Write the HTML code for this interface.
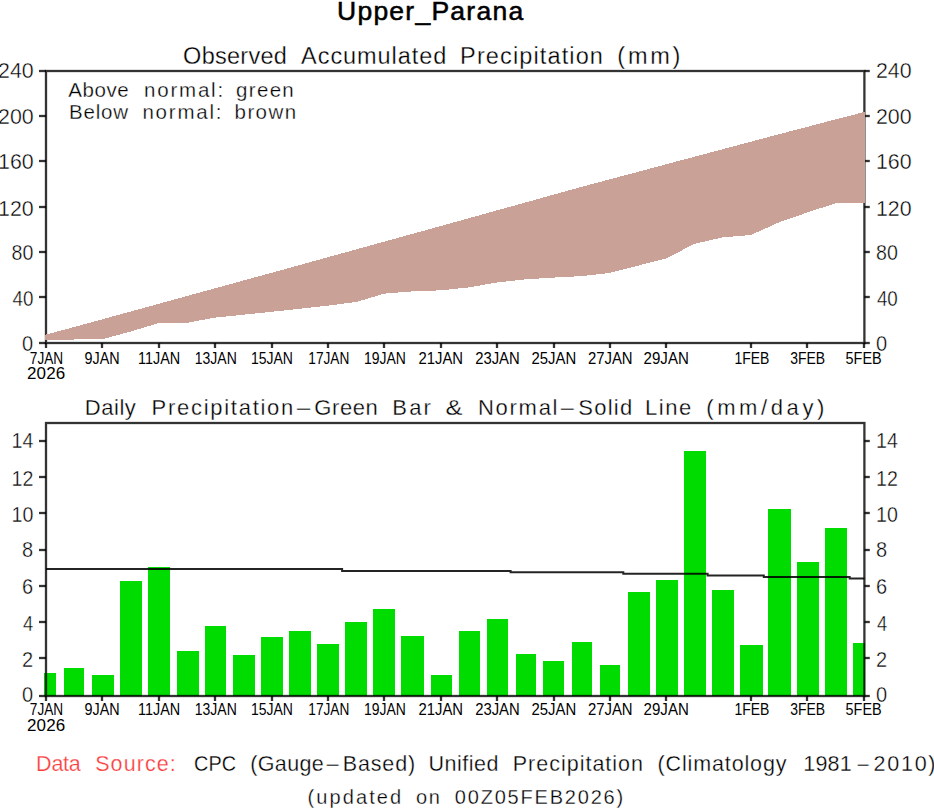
<!DOCTYPE html>
<html><head><meta charset="utf-8"><title>Upper_Parana</title>
<style>html,body{margin:0;padding:0;background:#fff;width:934px;height:809px;overflow:hidden}svg{display:block}text{font-family:'Liberation Sans', Arial, sans-serif}</style></head><body>
<svg width="934" height="809" viewBox="0 0 934 809">
<rect width="934" height="809" fill="#fff"/>
<g stroke="#000" stroke-opacity="0.8" stroke-width="2.3" fill="none">
<rect x="46" y="71" width="818.4" height="272"/>
<line x1="39" y1="343" x2="46" y2="343"/><line x1="864.4" y1="343" x2="869.8" y2="343"/>
<line x1="39" y1="297" x2="46" y2="297"/><line x1="864.4" y1="297" x2="869.8" y2="297"/>
<line x1="39" y1="252" x2="46" y2="252"/><line x1="864.4" y1="252" x2="869.8" y2="252"/>
<line x1="39" y1="207" x2="46" y2="207"/><line x1="864.4" y1="207" x2="869.8" y2="207"/>
<line x1="39" y1="161" x2="46" y2="161"/><line x1="864.4" y1="161" x2="869.8" y2="161"/>
<line x1="39" y1="116" x2="46" y2="116"/><line x1="864.4" y1="116" x2="869.8" y2="116"/>
<line x1="39" y1="71" x2="46" y2="71"/><line x1="864.4" y1="71" x2="869.8" y2="71"/>
<line x1="46" y1="343" x2="46" y2="348"/>
<line x1="102" y1="343" x2="102" y2="348"/>
<line x1="159" y1="343" x2="159" y2="348"/>
<line x1="215" y1="343" x2="215" y2="348"/>
<line x1="272" y1="343" x2="272" y2="348"/>
<line x1="328" y1="343" x2="328" y2="348"/>
<line x1="384" y1="343" x2="384" y2="348"/>
<line x1="441" y1="343" x2="441" y2="348"/>
<line x1="497" y1="343" x2="497" y2="348"/>
<line x1="554" y1="343" x2="554" y2="348"/>
<line x1="610" y1="343" x2="610" y2="348"/>
<line x1="666" y1="343" x2="666" y2="348"/>
<line x1="751" y1="343" x2="751" y2="348"/>
<line x1="807" y1="343" x2="807" y2="348"/>
<line x1="864" y1="343" x2="864" y2="348"/>
</g>
<polygon fill="rgb(201,161,151)" shape-rendering="crispEdges" points="45.2,334.8 74.2,327.0 102.4,319.3 130.6,311.5 158.8,303.8 187.0,296.0 215.2,288.3 243.4,280.5 271.6,272.8 299.8,265.0 328.0,257.2 356.2,249.4 384.4,241.6 412.6,233.8 440.8,226.0 469.0,218.2 497.2,210.3 525.4,202.5 553.6,194.6 581.8,186.8 610.0,179.3 638.2,171.8 666.4,164.2 694.6,156.7 722.8,149.2 751.0,141.7 779.2,134.2 807.4,126.8 835.6,119.3 865.2,111.8 865.2,202.7 835.6,203.2 807.4,212.5 779.2,222.2 751.0,235.0 722.8,237.3 694.6,243.8 666.4,258.3 638.2,265.6 610.0,272.9 581.8,276.1 553.6,277.6 525.4,279.4 497.2,282.4 469.0,287.4 440.8,290.3 412.6,291.4 384.4,293.6 356.2,302.0 328.0,305.6 299.8,308.8 271.6,311.8 243.4,314.7 215.2,317.6 187.0,322.8 158.8,323.1 130.6,331.5 102.4,339.2 74.2,339.5 45.2,340.3"/>
<g fill="rgb(0,220,0)" shape-rendering="crispEdges">
<rect x="43.7" y="673.0" width="12.6" height="22.7"/>
<rect x="64.0" y="668.3" width="20.3" height="27.4"/>
<rect x="92.1" y="674.7" width="21.9" height="21.0"/>
<rect x="120.0" y="580.7" width="22.1" height="115.0"/>
<rect x="148.3" y="566.9" width="21.8" height="128.8"/>
<rect x="176.6" y="651.1" width="22.1" height="44.6"/>
<rect x="204.8" y="626.0" width="21.6" height="69.7"/>
<rect x="232.6" y="654.5" width="22.1" height="41.2"/>
<rect x="260.9" y="637.0" width="22.1" height="58.7"/>
<rect x="289.1" y="630.8" width="21.9" height="64.9"/>
<rect x="317.0" y="643.6" width="22.0" height="52.1"/>
<rect x="345.2" y="621.6" width="22.1" height="74.1"/>
<rect x="373.4" y="609.1" width="21.9" height="86.6"/>
<rect x="401.3" y="635.7" width="22.2" height="60.0"/>
<rect x="431.1" y="674.6" width="20.5" height="21.1"/>
<rect x="459.0" y="630.8" width="20.8" height="64.9"/>
<rect x="487.3" y="618.5" width="20.5" height="77.2"/>
<rect x="515.5" y="654.4" width="20.6" height="41.3"/>
<rect x="543.4" y="660.6" width="20.5" height="35.1"/>
<rect x="571.6" y="641.7" width="20.5" height="54.0"/>
<rect x="599.9" y="665.2" width="20.5" height="30.5"/>
<rect x="627.7" y="592.0" width="22.3" height="103.7"/>
<rect x="656.0" y="579.5" width="21.7" height="116.2"/>
<rect x="684.2" y="451.1" width="21.8" height="244.6"/>
<rect x="712.0" y="590.1" width="22.3" height="105.6"/>
<rect x="740.3" y="645.1" width="22.2" height="50.6"/>
<rect x="768.4" y="509.0" width="22.2" height="186.7"/>
<rect x="796.6" y="562.3" width="21.9" height="133.4"/>
<rect x="824.6" y="527.9" width="22.1" height="167.8"/>
<rect x="852.8" y="643.4" width="12.2" height="52.3"/>
</g>
<g stroke="#000" stroke-opacity="0.8" stroke-width="2.3" fill="none">
<rect x="46" y="423" width="818.4" height="273"/>
<line x1="39" y1="696" x2="46" y2="696"/><line x1="864.4" y1="696" x2="869.8" y2="696"/>
<line x1="39" y1="658" x2="46" y2="658"/><line x1="864.4" y1="658" x2="869.8" y2="658"/>
<line x1="39" y1="622" x2="46" y2="622"/><line x1="864.4" y1="622" x2="869.8" y2="622"/>
<line x1="39" y1="586" x2="46" y2="586"/><line x1="864.4" y1="586" x2="869.8" y2="586"/>
<line x1="39" y1="550" x2="46" y2="550"/><line x1="864.4" y1="550" x2="869.8" y2="550"/>
<line x1="39" y1="513" x2="46" y2="513"/><line x1="864.4" y1="513" x2="869.8" y2="513"/>
<line x1="39" y1="477" x2="46" y2="477"/><line x1="864.4" y1="477" x2="869.8" y2="477"/>
<line x1="39" y1="441" x2="46" y2="441"/><line x1="864.4" y1="441" x2="869.8" y2="441"/>
<line x1="46" y1="696" x2="46" y2="701"/>
<line x1="102" y1="696" x2="102" y2="701"/>
<line x1="159" y1="696" x2="159" y2="701"/>
<line x1="215" y1="696" x2="215" y2="701"/>
<line x1="272" y1="696" x2="272" y2="701"/>
<line x1="328" y1="696" x2="328" y2="701"/>
<line x1="384" y1="696" x2="384" y2="701"/>
<line x1="441" y1="696" x2="441" y2="701"/>
<line x1="497" y1="696" x2="497" y2="701"/>
<line x1="554" y1="696" x2="554" y2="701"/>
<line x1="610" y1="696" x2="610" y2="701"/>
<line x1="666" y1="696" x2="666" y2="701"/>
<line x1="751" y1="696" x2="751" y2="701"/>
<line x1="807" y1="696" x2="807" y2="701"/>
<line x1="864" y1="696" x2="864" y2="701"/>
</g>
<path d="M46,569.0 L342.1,569.0 L342.1,570.9 L510.6,570.9 L510.6,572.3 L623.3,572.3 L623.3,573.85 L707.6,573.85 L707.6,575.4 L763.8,575.4 L763.8,576.9 L849.7,576.9 L849.7,578.5 L864.4,578.5" stroke="#000" stroke-opacity="0.86" stroke-width="2" fill="none"/>
<text y="19.6" font-size="26.5" stroke="#000" stroke-width="0.55"><tspan x="337.00" textLength="186.17" lengthAdjust="spacing">Upper_Parana</tspan></text>
<text y="63.5" font-size="23.5" stroke="#fff" stroke-width="0.3"><tspan x="183.10" textLength="103.79" lengthAdjust="spacing">Observed</tspan> <tspan x="301.10" textLength="145.16" lengthAdjust="spacing">Accumulated</tspan> <tspan x="460.10" textLength="142.83" lengthAdjust="spacing">Precipitation</tspan> <tspan x="617.30" textLength="63.11" lengthAdjust="spacing">(mm)</tspan></text>
<text y="96.6" font-size="20.5" stroke="#fff" stroke-width="0.3"><tspan x="68.30" textLength="60.44" lengthAdjust="spacing">Above</tspan> <tspan x="144.00" textLength="79.16" lengthAdjust="spacing">normal:</tspan> <tspan x="236.10" textLength="57.64" lengthAdjust="spacing">green</tspan></text>
<text y="118.5" font-size="20.5" stroke="#fff" stroke-width="0.3"><tspan x="69.00" textLength="59.14" lengthAdjust="spacing">Below</tspan> <tspan x="142.40" textLength="79.16" lengthAdjust="spacing">normal:</tspan> <tspan x="234.60" textLength="61.44" lengthAdjust="spacing">brown</tspan></text>
<text y="415" font-size="22" stroke="#fff" stroke-width="0.3"><tspan x="84.80" textLength="51.01" lengthAdjust="spacing">Daily</tspan> <tspan x="151.60" textLength="141.68" lengthAdjust="spacing">Precipitation</tspan><tspan x="294.13" textLength="19.23" lengthAdjust="spacingAndGlyphs">-</tspan><tspan x="314.30" textLength="63.46" lengthAdjust="spacing">Green</tspan> <tspan x="392.30" textLength="38.55" lengthAdjust="spacing">Bar</tspan> <tspan x="445.44" textLength="17.00" lengthAdjust="spacingAndGlyphs">&amp;</tspan> <tspan x="477.90" textLength="79.61" lengthAdjust="spacing">Normal</tspan><tspan x="558.02" textLength="18.55" lengthAdjust="spacingAndGlyphs">-</tspan><tspan x="578.30" textLength="53.92" lengthAdjust="spacing">Solid</tspan> <tspan x="645.10" textLength="46.09" lengthAdjust="spacing">Line</tspan> <tspan x="706.30" textLength="117.99" lengthAdjust="spacing">(mm/day)</tspan></text>
<text y="771.2" font-size="21.5" stroke="#fff" stroke-width="0.3"><tspan x="36.10" textLength="44.72" lengthAdjust="spacing" fill="rgb(250,60,60)" stroke-width="0.25">Data</tspan> <tspan x="95.20" textLength="80.61" lengthAdjust="spacing" fill="rgb(250,60,60)" stroke-width="0.25">Source:</tspan> <tspan x="194.07" textLength="42.00" lengthAdjust="spacingAndGlyphs">CPC</tspan> <tspan x="250.20" textLength="73.62" lengthAdjust="spacing">(Gauge</tspan><tspan x="324.01" textLength="17.19" lengthAdjust="spacingAndGlyphs">-</tspan><tspan x="342.70" textLength="72.43" lengthAdjust="spacing">Based)</tspan> <tspan x="428.40" textLength="70.14" lengthAdjust="spacing">Unified</tspan> <tspan x="512.70" textLength="130.33" lengthAdjust="spacing">Precipitation</tspan> <tspan x="657.60" textLength="128.88" lengthAdjust="spacing">(Climatology</tspan> <tspan x="803.30" textLength="48.44" lengthAdjust="spacing">1981</tspan><tspan x="855.31" textLength="15.69" lengthAdjust="spacingAndGlyphs">-</tspan><tspan x="873.60" textLength="61.90" lengthAdjust="spacing">2010)</tspan></text>
<text y="804" font-size="20" stroke="#fff" stroke-width="0.3"><tspan x="307.60" textLength="93.57" lengthAdjust="spacing">(updated</tspan> <tspan x="415.90" textLength="24.05" lengthAdjust="spacing">on</tspan> <tspan x="454.80" textLength="168.37" lengthAdjust="spacing">00Z05FEB2026)</tspan></text>
<text y="363.5" font-size="17"><tspan x="29.80" textLength="33.37" lengthAdjust="spacingAndGlyphs">7JAN</tspan></text>
<text y="715.0" font-size="17"><tspan x="29.80" textLength="33.37" lengthAdjust="spacingAndGlyphs">7JAN</tspan></text>
<text y="363.5" font-size="17"><tspan x="84.56" textLength="35.13" lengthAdjust="spacingAndGlyphs">9JAN</tspan></text>
<text y="715.0" font-size="17"><tspan x="84.56" textLength="35.13" lengthAdjust="spacingAndGlyphs">9JAN</tspan></text>
<text y="363.5" font-size="17"><tspan x="138.05" textLength="42.20" lengthAdjust="spacingAndGlyphs">11JAN</tspan></text>
<text y="715.0" font-size="17"><tspan x="138.05" textLength="42.20" lengthAdjust="spacingAndGlyphs">11JAN</tspan></text>
<text y="363.5" font-size="17"><tspan x="194.78" textLength="41.97" lengthAdjust="spacingAndGlyphs">13JAN</tspan></text>
<text y="715.0" font-size="17"><tspan x="194.78" textLength="41.97" lengthAdjust="spacingAndGlyphs">13JAN</tspan></text>
<text y="363.5" font-size="17"><tspan x="250.88" textLength="41.97" lengthAdjust="spacingAndGlyphs">15JAN</tspan></text>
<text y="715.0" font-size="17"><tspan x="250.88" textLength="41.97" lengthAdjust="spacingAndGlyphs">15JAN</tspan></text>
<text y="363.5" font-size="17"><tspan x="308.30" textLength="41.03" lengthAdjust="spacingAndGlyphs">17JAN</tspan></text>
<text y="715.0" font-size="17"><tspan x="308.30" textLength="41.03" lengthAdjust="spacingAndGlyphs">17JAN</tspan></text>
<text y="363.5" font-size="17"><tspan x="363.98" textLength="41.87" lengthAdjust="spacingAndGlyphs">19JAN</tspan></text>
<text y="715.0" font-size="17"><tspan x="363.98" textLength="41.87" lengthAdjust="spacingAndGlyphs">19JAN</tspan></text>
<text y="363.5" font-size="17"><tspan x="418.53" textLength="44.57" lengthAdjust="spacingAndGlyphs">21JAN</tspan></text>
<text y="715.0" font-size="17"><tspan x="418.53" textLength="44.57" lengthAdjust="spacingAndGlyphs">21JAN</tspan></text>
<text y="363.5" font-size="17"><tspan x="475.13" textLength="44.57" lengthAdjust="spacingAndGlyphs">23JAN</tspan></text>
<text y="715.0" font-size="17"><tspan x="475.13" textLength="44.57" lengthAdjust="spacingAndGlyphs">23JAN</tspan></text>
<text y="363.5" font-size="17"><tspan x="531.47" textLength="44.68" lengthAdjust="spacingAndGlyphs">25JAN</tspan></text>
<text y="715.0" font-size="17"><tspan x="531.47" textLength="44.68" lengthAdjust="spacingAndGlyphs">25JAN</tspan></text>
<text y="363.5" font-size="17"><tspan x="587.92" textLength="44.68" lengthAdjust="spacingAndGlyphs">27JAN</tspan></text>
<text y="715.0" font-size="17"><tspan x="587.92" textLength="44.68" lengthAdjust="spacingAndGlyphs">27JAN</tspan></text>
<text y="363.5" font-size="17"><tspan x="643.61" textLength="45.20" lengthAdjust="spacingAndGlyphs">29JAN</tspan></text>
<text y="715.0" font-size="17"><tspan x="643.61" textLength="45.20" lengthAdjust="spacingAndGlyphs">29JAN</tspan></text>
<text y="363.5" font-size="17"><tspan x="734.38" textLength="34.96" lengthAdjust="spacingAndGlyphs">1FEB</tspan></text>
<text y="715.0" font-size="17"><tspan x="734.38" textLength="34.96" lengthAdjust="spacingAndGlyphs">1FEB</tspan></text>
<text y="363.5" font-size="17"><tspan x="790.20" textLength="34.94" lengthAdjust="spacingAndGlyphs">3FEB</tspan></text>
<text y="715.0" font-size="17"><tspan x="790.20" textLength="34.94" lengthAdjust="spacingAndGlyphs">3FEB</tspan></text>
<text y="363.5" font-size="17"><tspan x="845.55" textLength="36.10" lengthAdjust="spacingAndGlyphs">5FEB</tspan></text>
<text y="715.0" font-size="17"><tspan x="845.55" textLength="36.10" lengthAdjust="spacingAndGlyphs">5FEB</tspan></text>
<text y="379.0" font-size="17"><tspan x="27.05" textLength="38.13" lengthAdjust="spacing">2026</tspan></text>
<text y="730.6" font-size="17"><tspan x="27.05" textLength="38.13" lengthAdjust="spacing">2026</tspan></text>
<text y="77.8" font-size="22" stroke="#fff" stroke-width="0.4"><tspan x="-1.97" textLength="35.67" lengthAdjust="spacingAndGlyphs">240</tspan></text>
<text y="77.8" font-size="22" stroke="#fff" stroke-width="0.4"><tspan x="875.93" textLength="35.67" lengthAdjust="spacingAndGlyphs">240</tspan></text>
<text y="123.6" font-size="22" stroke="#fff" stroke-width="0.4"><tspan x="-1.97" textLength="35.67" lengthAdjust="spacingAndGlyphs">200</tspan></text>
<text y="123.6" font-size="22" stroke="#fff" stroke-width="0.4"><tspan x="875.93" textLength="35.67" lengthAdjust="spacingAndGlyphs">200</tspan></text>
<text y="169.1" font-size="22" stroke="#fff" stroke-width="0.4"><tspan x="-1.97" textLength="35.67" lengthAdjust="spacingAndGlyphs">160</tspan></text>
<text y="169.1" font-size="22" stroke="#fff" stroke-width="0.4"><tspan x="875.93" textLength="35.67" lengthAdjust="spacingAndGlyphs">160</tspan></text>
<text y="215.6" font-size="22" stroke="#fff" stroke-width="0.4"><tspan x="-1.97" textLength="35.67" lengthAdjust="spacingAndGlyphs">120</tspan></text>
<text y="215.6" font-size="22" stroke="#fff" stroke-width="0.4"><tspan x="875.93" textLength="35.67" lengthAdjust="spacingAndGlyphs">120</tspan></text>
<text y="260.2" font-size="22" stroke="#fff" stroke-width="0.4"><tspan x="11.61" textLength="21.82" lengthAdjust="spacingAndGlyphs">80</tspan></text>
<text y="260.2" font-size="22" stroke="#fff" stroke-width="0.4"><tspan x="876.01" textLength="21.82" lengthAdjust="spacingAndGlyphs">80</tspan></text>
<text y="305.8" font-size="22" stroke="#fff" stroke-width="0.4"><tspan x="12.50" textLength="20.91" lengthAdjust="spacingAndGlyphs">40</tspan></text>
<text y="305.8" font-size="22" stroke="#fff" stroke-width="0.4"><tspan x="876.90" textLength="20.91" lengthAdjust="spacingAndGlyphs">40</tspan></text>
<text y="351.0" font-size="22" stroke="#fff" stroke-width="0.4"><tspan x="22.09" textLength="11.14" lengthAdjust="spacingAndGlyphs">0</tspan></text>
<text y="351.0" font-size="22" stroke="#fff" stroke-width="0.4"><tspan x="875.99" textLength="11.14" lengthAdjust="spacingAndGlyphs">0</tspan></text>
<text y="448.2" font-size="22" stroke="#fff" stroke-width="0.4"><tspan x="11.61" textLength="21.82" lengthAdjust="spacingAndGlyphs">14</tspan></text>
<text y="448.2" font-size="22" stroke="#fff" stroke-width="0.4"><tspan x="876.01" textLength="21.82" lengthAdjust="spacingAndGlyphs">14</tspan></text>
<text y="485.6" font-size="22" stroke="#fff" stroke-width="0.4"><tspan x="11.61" textLength="21.82" lengthAdjust="spacingAndGlyphs">12</tspan></text>
<text y="485.6" font-size="22" stroke="#fff" stroke-width="0.4"><tspan x="876.01" textLength="21.82" lengthAdjust="spacingAndGlyphs">12</tspan></text>
<text y="521.6" font-size="22" stroke="#fff" stroke-width="0.4"><tspan x="11.61" textLength="21.82" lengthAdjust="spacingAndGlyphs">10</tspan></text>
<text y="521.6" font-size="22" stroke="#fff" stroke-width="0.4"><tspan x="876.01" textLength="21.82" lengthAdjust="spacingAndGlyphs">10</tspan></text>
<text y="557.2" font-size="22" stroke="#fff" stroke-width="0.4"><tspan x="22.09" textLength="11.14" lengthAdjust="spacingAndGlyphs">8</tspan></text>
<text y="557.2" font-size="22" stroke="#fff" stroke-width="0.4"><tspan x="875.99" textLength="11.14" lengthAdjust="spacingAndGlyphs">8</tspan></text>
<text y="594.0" font-size="22" stroke="#fff" stroke-width="0.4"><tspan x="22.09" textLength="11.14" lengthAdjust="spacingAndGlyphs">6</tspan></text>
<text y="594.0" font-size="22" stroke="#fff" stroke-width="0.4"><tspan x="875.99" textLength="11.14" lengthAdjust="spacingAndGlyphs">6</tspan></text>
<text y="630.6" font-size="22" stroke="#fff" stroke-width="0.4"><tspan x="23.00" textLength="10.21" lengthAdjust="spacingAndGlyphs">4</tspan></text>
<text y="630.6" font-size="22" stroke="#fff" stroke-width="0.4"><tspan x="876.90" textLength="10.21" lengthAdjust="spacingAndGlyphs">4</tspan></text>
<text y="666.8" font-size="22" stroke="#fff" stroke-width="0.4"><tspan x="22.09" textLength="11.14" lengthAdjust="spacingAndGlyphs">2</tspan></text>
<text y="666.8" font-size="22" stroke="#fff" stroke-width="0.4"><tspan x="875.99" textLength="11.14" lengthAdjust="spacingAndGlyphs">2</tspan></text>
<text y="702.2" font-size="22" stroke="#fff" stroke-width="0.4"><tspan x="22.09" textLength="11.14" lengthAdjust="spacingAndGlyphs">0</tspan></text>
<text y="702.2" font-size="22" stroke="#fff" stroke-width="0.4"><tspan x="875.99" textLength="11.14" lengthAdjust="spacingAndGlyphs">0</tspan></text>
</svg></body></html>
